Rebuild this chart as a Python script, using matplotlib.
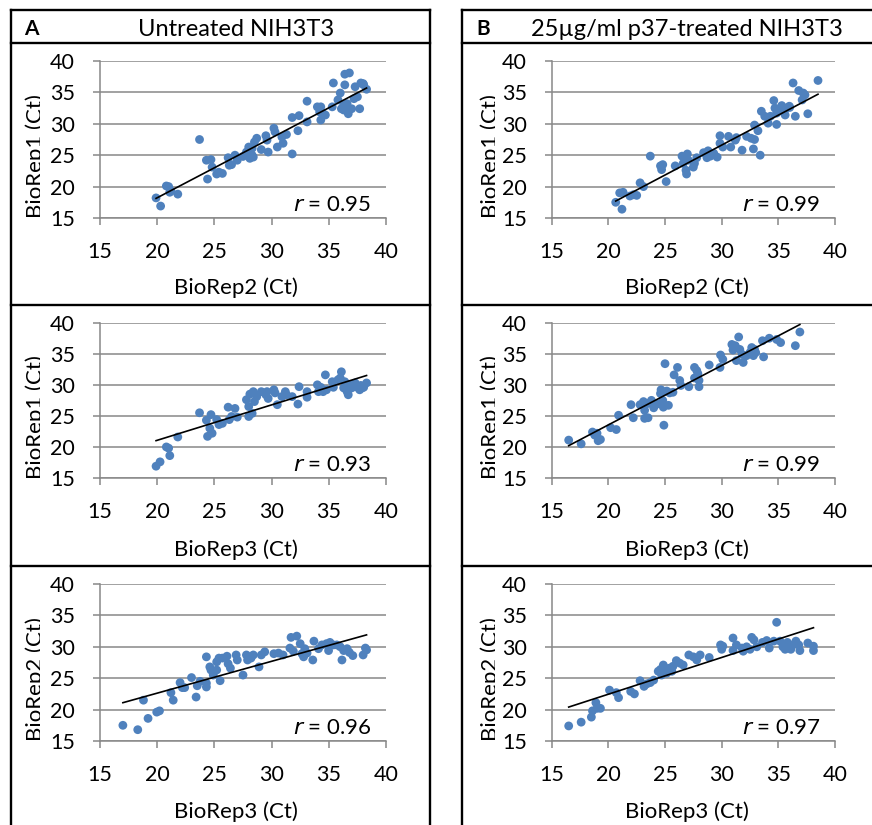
import numpy as np
import matplotlib
matplotlib.use("Agg")
import matplotlib.pyplot as plt
from matplotlib.lines import Line2D
from matplotlib.transforms import Bbox, TransformedBbox

plt.rcParams["font.family"] = ["Lato", "DejaVu Sans"]

W, H = 872, 825

# ---- data (Ct values) ----
# A: untreated NIH3T3
a1_x = [19.9, 20.3, 20.8, 21.1, 21.8, 23.7, 24.3, 24.7, 24.4, 24.8, 25.2, 25.7, 25.4, 26.2, 26.3,
        26.5, 26.8, 27.0, 27.5, 27.8, 28.0, 28.1, 28.3, 28.4, 28.3, 28.5, 28.7, 29.1, 29.5, 29.6,
        29.7, 30.2, 30.3, 30.5, 30.9, 31.0, 31.3, 31.8, 31.8, 32.3, 32.4, 33.1, 33.1, 34.0, 34.2,
        34.3, 34.3, 34.5, 34.7, 35.3, 35.4, 35.8, 36.0, 36.1, 36.3, 36.4, 36.4, 36.6, 36.7, 36.8,
        36.6, 37.0, 37.2, 37.3, 37.5, 37.7, 37.8, 38.0, 38.3, 38.05, 36.3, 21.0, 21.2]
a1_y = [18.2, 16.9, 20.1, 19.1, 18.8, 27.5, 24.2, 24.3, 21.2, 23.1, 22.0, 22.1, 22.3, 24.6, 23.4,
        23.5, 25.0, 24.2, 24.8, 25.5, 26.3, 24.5, 25.0, 24.7, 26.1, 27.1, 27.7, 25.9, 28.1, 27.4,
        25.5, 29.3, 28.7, 26.3, 27.9, 26.9, 28.3, 25.2, 31.0, 28.9, 31.3, 33.6, 30.3, 32.7, 31.9,
        32.7, 30.6, 31.6, 31.4, 32.7, 36.5, 33.8, 34.9, 32.4, 32.2, 37.9, 36.2, 33.2, 31.6, 38.1,
        32.2, 32.4, 34.0, 35.9, 34.3, 32.4, 36.5, 36.4, 35.5, 36.2, 33.0, 20.0, 19.3]

a2_x = [19.9, 20.25, 20.8, 21.0, 21.1, 21.8, 23.7, 24.3, 24.6, 24.4, 24.7, 24.8, 25.2, 25.4, 25.7,
        26.2, 26.3, 26.5, 26.8, 27.0, 27.8, 28.0, 28.0, 28.1, 28.3, 28.4, 28.5, 28.7, 29.1, 29.5,
        29.6, 29.7, 30.2, 30.3, 30.5, 30.9, 31.2, 31.3, 31.8, 32.3, 32.4, 33.1, 33.1, 34.0, 34.1,
        34.3, 34.5, 34.7, 34.8, 35.3, 35.4, 35.8, 36.0, 36.1, 36.3, 36.4, 36.6, 36.7, 36.9, 37.0,
        37.3, 37.5, 37.7, 37.9, 38.05, 38.3, 37.8]
a2_y = [16.9, 17.6, 20.0, 19.8, 18.6, 21.6, 25.5, 24.3, 23.0, 21.7, 25.2, 22.2, 24.4, 23.6, 23.8,
        26.4, 24.4, 24.9, 26.2, 24.8, 27.6, 24.9, 26.5, 28.5, 25.4, 28.9, 27.3, 28.1, 28.9, 28.4,
        28.9, 27.8, 29.2, 28.7, 26.8, 28.1, 28.9, 28.4, 28.1, 26.9, 29.7, 28.0, 28.9, 30.0, 28.9,
        29.6, 28.9, 31.6, 29.2, 30.5, 29.6, 30.8, 31.1, 32.1, 29.5, 30.5, 28.9, 28.4, 30.0, 29.5,
        30.3, 29.6, 29.2, 29.5, 29.6, 30.3, 29.9]

a3_x = [17.0, 18.3, 18.8, 19.2, 19.96, 20.2, 21.2, 21.4, 22.0, 22.2, 22.4, 23.0, 23.4, 23.5, 23.75,
        24.3, 24.3, 24.3, 24.6, 24.7, 24.9, 25.2, 25.2, 25.4, 25.5, 25.7, 26.1, 26.2, 26.4, 26.9,
        27.0, 27.5, 27.8, 27.9, 28.2, 28.4, 28.9, 29.1, 29.4, 30.2, 30.6, 31.0, 31.6, 31.7, 32.2,
        31.9, 32.5, 32.65, 32.8, 32.9, 33.1, 33.6, 33.7, 34.1, 34.4, 34.8, 34.98, 35.1, 35.7, 36.0,
        36.15, 36.3, 36.6, 36.8, 37.1, 38.0, 38.2, 38.3, 35.4]
a3_y = [17.5, 16.8, 21.5, 18.6, 19.6, 19.8, 22.7, 21.5, 24.3, 23.5, 23.5, 25.1, 22.0, 23.8, 24.5,
        24.2, 23.6, 28.4, 26.8, 26.3, 25.5, 26.3, 27.6, 28.2, 24.6, 28.2, 28.5, 27.3, 26.6, 28.7,
        27.9, 25.5, 28.7, 27.9, 28.2, 28.7, 26.8, 28.7, 29.2, 28.9, 29.0, 28.7, 29.8, 31.5, 31.7,
        29.3, 30.5, 28.9, 28.4, 29.7, 29.0, 27.9, 30.9, 29.7, 30.3, 30.5, 29.4, 30.7, 30.3, 30.0,
        27.9, 29.4, 29.7, 29.1, 28.6, 28.7, 29.8, 29.5, 30.3]

# B: 25 ug/ml p37-treated NIH3T3
b1_x = [20.65, 21.0, 21.3, 21.2, 21.9, 22.2, 22.5, 22.8, 23.1, 23.7, 24.6, 24.7, 24.8, 25.1, 25.9,
        26.5, 26.6, 26.85, 26.9, 26.97, 27.06, 27.5, 27.6, 27.8, 28.4, 28.7, 28.8, 29.0, 29.3, 29.6,
        29.85, 29.85, 30.1, 30.6, 30.8, 31.2, 31.3, 31.8, 32.2, 32.6, 32.8, 32.9, 32.9, 33.2, 33.4,
        33.5, 33.8, 34.1, 34.3, 34.6, 34.7, 34.85, 34.85, 35.3, 35.6, 35.7, 35.97, 36.3, 36.5, 36.8,
        37.1, 37.35, 37.6, 38.5, 35.0, 35.5, 36.0, 37.2]
b1_y = [17.5, 19.0, 19.1, 16.4, 18.5, 18.7, 18.6, 20.6, 20.0, 24.85, 23.3, 22.7, 23.5, 20.8, 23.3,
        24.85, 23.7, 22.6, 22.0, 25.2, 24.2, 23.1, 23.7, 24.6, 25.4, 24.6, 25.7, 24.85, 25.3, 24.7,
        28.1, 26.9, 26.3, 28.0, 26.3, 27.4, 27.8, 25.8, 28.0, 27.7, 26.0, 27.5, 29.8, 28.9, 25.0,
        32.0, 31.2, 30.1, 31.2, 33.7, 32.5, 31.7, 29.9, 32.9, 31.4, 32.5, 32.8, 36.5, 31.2, 35.3,
        33.8, 34.6, 31.6, 36.9, 32.2, 32.0, 32.6, 34.9]

b2_x = [16.5, 17.6, 18.6, 18.8, 19.0, 19.1, 19.3, 20.2, 20.7, 20.9, 22.0, 22.2, 22.8, 23.1, 23.2,
        23.2, 23.5, 23.5, 23.8, 24.0, 24.3, 24.6, 24.65, 24.8, 24.9, 24.85, 25.0, 25.15, 25.3, 25.4,
        25.7, 25.8, 26.1, 26.3, 26.4, 27.1, 27.6, 27.6, 27.8, 27.9, 28.0, 28.0, 28.9, 29.85, 29.9,
        30.1, 30.9, 31.0, 31.2, 31.3, 31.5, 31.6, 31.8, 31.9, 32.2, 32.5, 32.65, 32.8, 32.9, 33.0,
        33.6, 33.7, 34.2, 34.85, 35.2, 36.5, 36.9]
b2_y = [21.1, 20.5, 22.4, 21.9, 22.2, 21.0, 21.2, 23.1, 22.8, 25.1, 26.8, 24.7, 26.8, 27.3, 25.9,
        24.6, 24.7, 27.0, 27.5, 26.3, 26.9, 28.6, 29.2, 27.5, 23.5, 26.4, 33.4, 29.0, 26.7, 28.7,
        28.8, 31.6, 32.8, 30.7, 29.9, 29.7, 32.8, 31.1, 32.3, 31.8, 30.7, 29.7, 33.2, 32.8, 34.8,
        34.1, 36.5, 35.6, 36.3, 33.9, 37.7, 35.7, 34.9, 33.6, 34.7, 35.2, 36.0, 34.7, 35.7, 35.2,
        37.1, 34.5, 37.5, 37.3, 36.8, 36.3, 38.5]

b3_x = [16.5, 17.6, 18.5, 18.6, 18.9, 19.0, 19.3, 20.1, 20.7, 20.9, 21.97, 22.3, 22.8, 23.15, 23.4,
        23.7, 24.0, 24.4, 24.6, 24.7, 24.85, 25.0, 25.15, 25.4, 25.6, 25.7, 26.0, 26.3, 26.6, 27.1,
        27.5, 27.8, 28.1, 28.9, 29.9, 30.0, 30.1, 31.0, 31.0, 31.3, 31.8, 31.9, 32.2, 32.5, 32.65,
        32.85, 33.1, 33.6, 33.97, 34.2, 34.6, 34.85, 35.15, 35.4, 35.6, 35.8, 36.0, 36.1, 36.3, 36.55,
        36.8, 36.9, 37.6, 38.1, 38.1]
b3_y = [17.4, 18.0, 18.8, 19.8, 21.1, 20.2, 20.2, 23.1, 22.7, 21.9, 22.9, 22.5, 24.6, 23.7, 24.1,
        24.3, 24.7, 26.1, 26.4, 25.5, 27.1, 26.6, 25.8, 26.6, 26.1, 26.9, 27.8, 27.4, 27.1, 28.7,
        28.4, 27.9, 28.7, 28.3, 30.3, 29.6, 30.1, 31.4, 29.4, 30.3, 29.8, 29.3, 30.0, 29.6, 31.5,
        31.1, 30.0, 30.7, 31.0, 29.8, 30.9, 33.9, 30.9, 30.0, 29.6, 30.7, 30.0, 29.6, 30.3, 30.9,
        30.3, 29.4, 30.6, 30.1, 29.4]

# linear trend lines (slope, intercept) and correlation labels
trend_a = [(0.955, -0.88), (0.570, 9.67), (0.507, 12.48)]
trend_b = [(0.953, -1.98), (0.956, 4.43), (0.585, 10.75)]
r_a = ["0.95", "0.93", "0.96"]
r_b = ["0.99", "0.99", "0.97"]

x_labels = ["BioRep2 (Ct)", "BioRep3 (Ct)", "BioRep3 (Ct)"]
y_labels = ["BioRep1 (Ct)", "BioRep1 (Ct)", "BioRep2 (Ct)"]
titles = ["Untreated NIH3T3", "25\u00b5g/ml p37-treated NIH3T3"]
letters = ["A", "B"]
ticks = [15, 20, 25, 30, 35, 40]

series = [[(a1_x, a1_y), (a2_x, a2_y), (a3_x, a3_y)],
          [(b1_x, b1_y), (b2_x, b2_y), (b3_x, b3_y)]]
trends = [trend_a, trend_b]
r_vals = [r_a, r_b]

# ---- layout in pixels ----
col_axes = [(100, 386), (551.7, 835)]
row_axes = [(61, 218), (322.7, 478), (584, 741)]
col_center = [236, 687]
letter_x = [24, 476]
xlab_y = [288, 550, 812]
ylab_x = [41.5, 496.5]   # baseline of the rotated axis title
dot_c = "#4F81BD"
grid_c = "#888888"

fig = plt.figure(figsize=(W / 100, H / 100), dpi=100)
fig.patch.set_facecolor("white")


def fx(x):
    return x / W


def fy(y):
    return 1 - y / H


for c in range(2):
    l, r = col_axes[c]
    for i in range(3):
        t, b = row_axes[i]
        ax = fig.add_axes([fx(l), fy(b), (r - l) / W, (b - t) / H])
        x, y = series[c][i]
        ax.scatter(x, y, s=40, color=dot_c, edgecolors="none", zorder=3)
        m, k = trends[c][i]
        xs = np.array([min(x), max(x)])
        ax.plot(xs, m * xs + k, color="black", lw=1.2, zorder=4)

        ax.set_xlim(15, 40)
        ax.set_ylim(15, 40)
        ax.set_xticks(ticks)
        ax.set_yticks(ticks)
        ax.grid(axis="y", color=grid_c, lw=1.1, zorder=0)
        ax.set_axisbelow(True)
        for s in ["top", "right"]:
            ax.spines[s].set_visible(False)
        for s in ["left", "bottom"]:
            ax.spines[s].set_color(grid_c)
            ax.spines[s].set_linewidth(1.1)
        ax.tick_params(direction="out", length=5, width=1.1, color=grid_c,
                       labelsize=15.5, labelcolor="black")
        ax.tick_params(axis="x", pad=12)
        ax.tick_params(axis="y", pad=13)

        ax.text(0.948, 0.047, "$\\it{r}$ = " + r_vals[c][i], transform=ax.transAxes,
                ha="right", va="baseline", fontsize=16)

        # axis titles
        fig.text(fx(col_center[c]), fy(xlab_y[i]), x_labels[i], ha="center", va="center",
                 fontsize=16)
        yc = (t + b) / 2 + 17
        yt = fig.text(fx(ylab_x[c]), fy(yc), y_labels[i], rotation=90, rotation_mode="anchor",
                      ha="center", va="baseline", fontsize=16)
        # the title is cut just above its baseline, next to the tick labels
        clip = Bbox([[fx(ylab_x[c] - 30), fy(b + 30)], [fx(ylab_x[c] - 2), fy(t - 30)]])
        yt.set_clip_box(TransformedBbox(clip, fig.transFigure))
        yt.set_clip_on(True)

    # header
    fig.text(fx(col_center[c]), fy(35.5), titles[c], ha="center", va="baseline", fontsize=17)
    fig.text(fx(letter_x[c]), fy(35), letters[c], ha="left", va="baseline", fontsize=15,
             fontweight="bold")


# table borders
def hline(y, x0, x1):
    fig.add_artist(Line2D([fx(x0), fx(x1)], [fy(y), fy(y)], color="black", lw=1.7,
                          solid_capstyle="projecting"))


def vline(x, y0, y1):
    fig.add_artist(Line2D([fx(x), fx(x)], [fy(y0), fy(y1)], color="black", lw=1.7,
                          solid_capstyle="projecting"))


for yy in [9.5, 43, 304.5, 566]:
    hline(yy, 11, 430)
    hline(yy, 462, 872)
vline(11, 9.5, 825)
vline(430, 9.5, 825)
vline(462, 9.5, 825)

fig.savefig("out.png", dpi=100, facecolor="white")
